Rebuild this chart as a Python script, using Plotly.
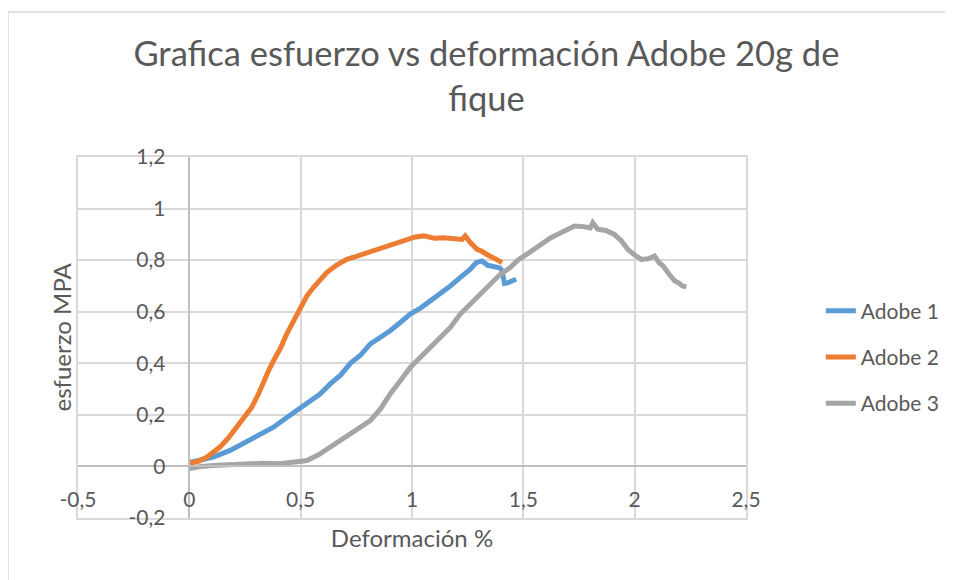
import plotly.graph_objects as go

# ---- data ----
adobe1_x = [0, 0.05, 0.108, 0.183, 0.24, 0.287, 0.33, 0.378, 0.43, 0.483, 0.535, 0.587,
            0.633, 0.68, 0.723, 0.767, 0.813, 0.86, 0.902, 0.95, 0.992, 1.04, 1.082,
            1.13, 1.172, 1.22, 1.262, 1.288, 1.314, 1.34, 1.37, 1.395, 1.405, 1.415, 1.43,
            1.445, 1.456, 1.468]
adobe1_y = [0.015, 0.025, 0.036, 0.062, 0.088, 0.113, 0.13, 0.152, 0.185, 0.217, 0.25, 0.281,
            0.32, 0.355, 0.40, 0.43, 0.475, 0.50, 0.526, 0.56, 0.591, 0.615, 0.642,
            0.67, 0.70, 0.735, 0.765, 0.79, 0.797, 0.78, 0.777, 0.77, 0.758, 0.71, 0.712,
            0.72, 0.722, 0.726]

adobe2_x = [0, 0.04, 0.078, 0.137, 0.175, 0.213, 0.25, 0.28, 0.31, 0.333, 0.355, 0.378,
            0.41, 0.437, 0.468, 0.498, 0.527, 0.557, 0.587, 0.617, 0.66, 0.707, 0.75, 0.797,
            0.84, 0.887, 0.93, 0.977, 1.015, 1.052, 1.1, 1.141, 1.19, 1.225, 1.239, 1.26,
            1.292, 1.31, 1.34, 1.366, 1.385, 1.404]
adobe2_y = [0.012, 0.02, 0.036, 0.075, 0.11, 0.152, 0.19, 0.229, 0.28, 0.333, 0.37, 0.41,
            0.46, 0.513, 0.565, 0.616, 0.66, 0.694, 0.725, 0.752, 0.78, 0.803, 0.815, 0.829,
            0.84, 0.855, 0.868, 0.881, 0.89, 0.894, 0.885, 0.887, 0.885, 0.88, 0.894, 0.87,
            0.842, 0.836, 0.82, 0.81, 0.80, 0.79]

adobe3_x = [0, 0.05, 0.108, 0.18, 0.258, 0.33, 0.408, 0.47, 0.528, 0.58, 0.633, 0.68,
            0.723, 0.767, 0.813, 0.86, 0.902, 0.95, 0.992, 1.04, 1.082, 1.127, 1.172, 1.217,
            1.262, 1.306, 1.352, 1.396, 1.441, 1.475, 1.516, 1.55, 1.58, 1.62, 1.655, 1.69,
            1.73, 1.77, 1.80, 1.812, 1.834, 1.87, 1.909, 1.94, 1.969, 2.0, 2.029, 2.06,
            2.089, 2.11, 2.127, 2.155, 2.179, 2.2, 2.215, 2.232]
adobe3_y = [-0.008, 0.0, 0.004, 0.008, 0.01, 0.012, 0.01, 0.015, 0.023, 0.045, 0.075, 0.1,
            0.126, 0.155, 0.178, 0.225, 0.281, 0.335, 0.384, 0.425, 0.462, 0.50, 0.539, 0.591,
            0.629, 0.668, 0.707, 0.745, 0.771, 0.80, 0.823, 0.845, 0.861, 0.885, 0.90, 0.915,
            0.932, 0.93, 0.925, 0.945, 0.92, 0.915, 0.90, 0.875, 0.842, 0.82, 0.803, 0.805,
            0.816, 0.79, 0.778, 0.745, 0.72, 0.71, 0.70, 0.696]

series_names = ["Adobe 1", "Adobe 2", "Adobe 3"]
series_colors = ["#5B9BD5", "#ED7D31", "#A5A5A5"]

x_tick_vals = [-0.5, 0, 0.5, 1, 1.5, 2, 2.5]
x_tick_text = ["-0,5", "0", "0,5", "1", "1,5", "2", "2,5"]
y_tick_vals = [-0.2, 0, 0.2, 0.4, 0.6, 0.8, 1.0, 1.2]
y_tick_text = ["-0,2", "0", "0,2", "0,4", "0,6", "0,8", "1", "1,2"]

X_RANGE = [-0.5, 2.5]
Y_RANGE = [-0.2, 1.2]

FONT = "Lato"
TXT = "#595959"
GRID = "#D9D9D9"
AXLINE = "#BFBFBF"

fig = go.Figure()
for i, (xs, ys) in enumerate([(adobe1_x, adobe1_y), (adobe2_x, adobe2_y), (adobe3_x, adobe3_y)]):
    fig.add_trace(go.Scatter(
        x=xs, y=ys, mode="lines", name=series_names[i],
        line=dict(color=series_colors[i], width=5),
        legendgroup=series_names[i],
    ))

# dummy trace so the overlay axes (labels placed at the zero lines) are drawn
fig.add_trace(go.Scatter(x=[None], y=[None], xaxis="x2", yaxis="y2",
                         showlegend=False, hoverinfo="skip"))

x0_frac = (0 - X_RANGE[0]) / (X_RANGE[1] - X_RANGE[0])
y0_frac = (0 - Y_RANGE[0]) / (Y_RANGE[1] - Y_RANGE[0])

fig.update_layout(
    width=953, height=580,
    margin=dict(l=70, r=215, t=149, b=70),
    paper_bgcolor="white", plot_bgcolor="white",
    font=dict(family=FONT, color=TXT, size=21),
    title=dict(text="Grafica esfuerzo vs deformación Adobe 20g de<br>fique",
               xref="container", x=0.502, xanchor="center",
               yref="container", y=0.90, yanchor="top",
               font=dict(family=FONT, size=34.5, color=TXT)),
    xaxis=dict(range=X_RANGE, tickvals=x_tick_vals, showticklabels=False,
               showgrid=True, gridcolor=GRID, gridwidth=1.5, zeroline=False,
               showline=True, mirror=True, linecolor=GRID, linewidth=1.5,
               title=dict(text="Deformación %", standoff=11,
                          font=dict(family=FONT, size=24, color=TXT))),
    yaxis=dict(range=Y_RANGE, tickvals=y_tick_vals, showticklabels=False,
               showgrid=True, gridcolor=GRID, gridwidth=1.5, zeroline=False,
               showline=True, mirror=True, linecolor=GRID, linewidth=1.5),
    xaxis2=dict(overlaying="x", anchor="free", position=y0_frac, side="bottom",
                range=X_RANGE, tickmode="array", tickvals=x_tick_vals, ticktext=x_tick_text,
                showgrid=False, zeroline=False, showline=True, linecolor=AXLINE, linewidth=1.5,
                ticks="outside", ticklen=15, tickcolor="rgba(0,0,0,0)",
                tickfont=dict(family=FONT, size=21, color=TXT)),
    yaxis2=dict(overlaying="y", anchor="free", position=x0_frac, side="left",
                range=Y_RANGE, tickmode="array", tickvals=y_tick_vals, ticktext=y_tick_text,
                showgrid=False, zeroline=False, showline=True, linecolor=AXLINE, linewidth=1.5,
                ticks="outside", ticklen=19, tickcolor="rgba(0,0,0,0)",
                tickfont=dict(family=FONT, size=21, color=TXT)),
    legend=dict(x=1.112, xanchor="left", y=0.446, yanchor="middle",
                font=dict(family=FONT, size=21, color=TXT),
                tracegroupgap=16, bgcolor="rgba(0,0,0,0)"),
    showlegend=True,
)

# y-axis title (rotated, left of the plot area)
fig.add_annotation(text="esfuerzo MPA", xref="paper", yref="paper",
                   x=-0.0254, y=0.5, xanchor="center", yanchor="middle",
                   textangle=-90, showarrow=False,
                   font=dict(family=FONT, size=24, color=TXT))

# outer chart border
fig.add_shape(type="rect", xref="paper", yref="paper",
              x0=-0.1048, x1=1.35, y0=-0.25, y1=1.4017,
              line=dict(color="#D9D9D9", width=1.5), fillcolor="rgba(0,0,0,0)", layer="below")

fig.write_html("out.html")
